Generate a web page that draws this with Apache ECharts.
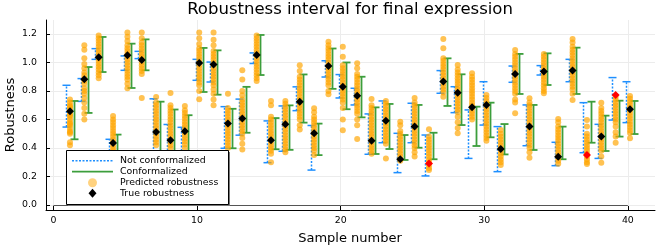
<!DOCTYPE html>
<html><head><meta charset="utf-8">
<script src="https://cdn.jsdelivr.net/npm/echarts@6/dist/echarts.min.js"></script>
<style>html,body{margin:0;padding:0;background:#fff}#c{width:664px;height:249px}</style>
</head><body><div id="c"></div>
<script>
const titleText = 'Robustness interval for final expression';
const xLabel = 'Sample number';
const yLabel = 'Robustness';
const seriesNames = ['Not conformalized', 'Conformalized', 'Predicted robustness', 'True robustness'];
const xTicks = [0, 10, 20, 30, 40];
const yTicks = [0, 0.2, 0.4, 0.6, 0.8, 1.0, 1.2];

const samples = [1,2,3,4,5,6,7,8,9,10,11,12,13,14,15,16,17,18,19,20,21,22,23,24,25,26,27,28,29,30,31,32,33,34,35,36,37,38,39,40];
const blueLo  = [0.547,0.727,1.022,0.33,0.945,1.027,0.32,0.26,0.33,0.875,0.863,0.398,0.49,0.993,0.297,0.377,0.662,0.245,0.898,0.751,0.702,0.356,0.437,0.227,0.437,0.204,0.784,0.648,0.327,0.561,0.234,0.861,0.416,0.912,0.276,0.865,0.367,0.327,0.596,0.578];
const blueHi  = [0.840,0.887,1.097,0.461,1.046,1.078,0.745,0.565,0.545,1.022,1.003,0.690,0.743,1.067,0.590,0.695,0.829,0.558,1.012,0.915,0.819,0.639,0.730,0.503,0.714,0.491,0.943,0.830,0.667,0.865,0.550,0.975,0.702,0.978,0.440,1.022,0.718,0.566,0.894,0.865];
const greenLo = [0.461,0.646,0.933,0.30,0.821,0.945,0.33,0.30,0.36,0.793,0.774,0.398,0.507,0.912,0.391,0.387,0.578,0.350,0.815,0.672,0.615,0.358,0.393,0.316,0.402,0.321,0.695,0.561,0.414,0.475,0.355,0.779,0.386,0.842,0.321,0.779,0.437,0.379,0.480,0.498];
const greenHi = [0.730,0.968,1.179,0.494,1.132,1.162,0.725,0.670,0.630,1.102,1.085,0.675,0.829,1.193,0.610,0.699,0.916,0.571,1.098,1.000,0.900,0.685,0.709,0.491,0.702,0.507,1.029,0.917,0.690,0.718,0.568,1.060,0.702,1.064,0.550,1.104,0.725,0.627,0.732,0.730];
const trueVals = [0.657,0.882,1.036,0.435,1.050,1.018,0.512,0.455,0.518,0.996,0.985,0.572,0.607,1.053,0.455,0.566,0.724,0.504,0.975,0.829,0.767,0.451,0.592,0.321,0.550,0.292,0.866,0.788,0.685,0.702,0.393,0.919,0.550,0.936,0.339,0.943,0.351,0.480,0.772,0.671];

const predicted = [
  [0.42,0.44,0.50,0.51,0.52,0.54,0.56,0.57,0.58,0.60,0.62,0.63,0.64,0.66,0.68,0.69,0.70,0.72,0.74],
  [0.60,0.64,0.68,0.72,0.75,0.78,0.80,0.82,0.85,0.87,0.89,0.91,0.93,0.96,0.99,1.03,1.09,1.12],
  [0.89,0.91,0.93,0.95,0.97,0.99,1.01,1.03,1.05,1.07,1.09,1.11,1.13,1.15,1.17,1.19],
  [0.625,0.60,0.58,0.56,0.54,0.52,0.50,0.48,0.46,0.44,0.42,0.40,0.38,0.36],
  [0.82,0.85,0.88,0.90,0.92,0.94,0.96,0.98,1.00,1.02,1.04,1.06,1.08,1.10,1.12,1.15,1.18,1.21],
  [0.75,0.92,0.94,0.96,0.98,1.00,1.02,1.04,1.06,1.08,1.10,1.12,1.14,1.17,1.21],
  [0.757,0.72,0.70,0.68,0.66,0.64,0.62,0.60,0.58,0.56,0.54,0.52,0.50,0.48,0.46,0.44,0.42],
  [0.785,0.70,0.68,0.66,0.64,0.62,0.60,0.58,0.56,0.54,0.52,0.50,0.48,0.46,0.44,0.42,0.40],
  [0.695,0.665,0.645,0.625,0.605,0.585,0.565,0.545,0.525,0.505,0.485,0.465,0.445,0.425,0.40],
  [0.742,0.80,0.84,0.86,0.88,0.90,0.92,0.94,0.96,0.98,1.00,1.02,1.04,1.06,1.08,1.10,1.13,1.17,1.21],
  [0.70,0.74,0.78,0.81,0.84,0.86,0.88,0.90,0.92,0.94,0.96,0.98,1.00,1.02,1.04,1.06,1.08,1.12,1.16,1.21],
  [0.78,0.68,0.66,0.64,0.62,0.60,0.58,0.56,0.54,0.52,0.50,0.48,0.46,0.44,0.42,0.40],
  [0.945,0.88,0.80,0.77,0.74,0.72,0.70,0.68,0.66,0.64,0.62,0.60,0.58,0.56,0.54,0.52,0.50,0.47,0.43,0.39],
  [0.87,0.89,0.91,0.93,0.95,0.97,0.99,1.01,1.03,1.05,1.07,1.09,1.11,1.13,1.15,1.17,1.19],
  [0.73,0.70,0.62,0.60,0.58,0.56,0.54,0.52,0.50,0.48,0.46,0.44,0.42,0.40,0.38,0.36,0.30],
  [0.73,0.71,0.69,0.67,0.65,0.63,0.61,0.59,0.57,0.55,0.53,0.51,0.49,0.47,0.45,0.43,0.41,0.39,0.37],
  [0.98,0.94,0.90,0.88,0.86,0.84,0.82,0.80,0.78,0.76,0.74,0.72,0.70,0.68,0.66,0.64,0.62,0.60,0.56,0.53],
  [0.678,0.65,0.62,0.60,0.58,0.56,0.54,0.52,0.50,0.48,0.46,0.44,0.42,0.40,0.38,0.35],
  [1.146,1.12,1.10,1.08,1.06,1.04,1.02,1.00,0.98,0.96,0.94,0.92,0.90,0.88,0.86,0.84,0.80,0.777],
  [1.11,1.04,0.98,0.96,0.94,0.92,0.90,0.88,0.86,0.84,0.82,0.80,0.78,0.76,0.74,0.72,0.68,0.60,0.524],
  [0.994,0.96,0.92,0.90,0.88,0.86,0.84,0.82,0.80,0.78,0.76,0.74,0.72,0.70,0.68,0.66,0.64,0.60,0.56,0.463],
  [0.744,0.70,0.68,0.66,0.64,0.62,0.60,0.58,0.56,0.54,0.52,0.50,0.48,0.46,0.44,0.42,0.40,0.38,0.36],
  [0.73,0.71,0.69,0.67,0.65,0.63,0.61,0.59,0.57,0.55,0.53,0.51,0.49,0.47,0.45,0.43,0.327],
  [0.585,0.56,0.52,0.50,0.48,0.46,0.44,0.42,0.40,0.38,0.36,0.34,0.32,0.31],
  [0.75,0.72,0.70,0.68,0.66,0.64,0.62,0.60,0.58,0.56,0.54,0.52,0.50,0.48,0.46,0.44,0.42,0.40,0.37,0.34],
  [0.531,0.48,0.46,0.44,0.42,0.40,0.38,0.36,0.34,0.32,0.30,0.28,0.26,0.245],
  [1.165,1.10,1.03,1.01,0.99,0.97,0.95,0.93,0.91,0.89,0.87,0.85,0.83,0.81,0.79,0.76],
  [0.982,0.95,0.93,0.91,0.89,0.87,0.85,0.83,0.81,0.79,0.77,0.75,0.73,0.71,0.69,0.67,0.65,0.62,0.58,0.54,0.503],
  [0.924,0.90,0.88,0.86,0.84,0.82,0.80,0.78,0.76,0.74,0.72,0.70,0.68,0.66,0.64,0.62,0.60],
  [0.772,0.75,0.73,0.71,0.69,0.67,0.65,0.63,0.61,0.59,0.57,0.55,0.53,0.51,0.49,0.47,0.451],
  [0.526,0.50,0.48,0.46,0.44,0.42,0.40,0.38,0.36,0.34,0.32,0.30,0.28],
  [1.088,1.06,1.04,1.02,1.00,0.98,0.96,0.94,0.92,0.90,0.88,0.86,0.84,0.82,0.80,0.78,0.74,0.72,0.643],
  [0.749,0.72,0.70,0.68,0.66,0.64,0.62,0.60,0.58,0.56,0.54,0.52,0.50,0.48,0.46,0.44,0.42,0.40,0.37,0.332],
  [1.06,1.04,1.02,1.00,0.98,0.96,0.94,0.92,0.90,0.88,0.86,0.84,0.82,0.80,0.784],
  [0.604,0.58,0.55,0.53,0.51,0.49,0.47,0.45,0.43,0.41,0.39,0.37,0.35,0.33,0.31,0.29],
  [1.165,1.14,1.11,1.09,1.07,1.05,1.03,1.01,0.99,0.97,0.95,0.93,0.91,0.89,0.87,0.85,0.83,0.81,0.78,0.737],
  [0.596,0.55,0.50,0.48,0.46,0.44,0.42,0.40,0.38,0.36,0.34,0.32,0.30,0.288],
  [0.718,0.68,0.66,0.64,0.62,0.60,0.58,0.56,0.54,0.52,0.50,0.48,0.46,0.44,0.42,0.40,0.38,0.34,0.297],
  [0.76,0.74,0.72,0.70,0.68,0.66,0.64,0.62,0.60,0.58,0.55,0.51,0.48,0.437],
  [0.765,0.745,0.725,0.705,0.685,0.665,0.645,0.625,0.605,0.585,0.565,0.545,0.525,0.505,0.468]
];

// style constants
const FONT = 'DejaVu Sans';
const BLUE = '#1E8FFF', GREEN = '#3C9E3C', ORANGE = 'rgba(255,165,0,0.68)', BLACK = '#000', RED = '#FF0000';
const OFF_BLUE = -0.1, OFF_MID = 0.15, OFF_GREEN = 0.4;
const CAP = 4;

function intervalRenderer(color, dash, width) {
  return function (params, api) {
    const x = api.value(0), lo = api.value(1), hi = api.value(2);
    const a = api.coord([x, lo]), b = api.coord([x, hi]);
    const cx = Math.round(a[0]) + 0.5;
    return {
      type: 'group',
      children: [
        { type: 'line', shape: { x1: cx, y1: a[1], x2: cx, y2: b[1] }, style: { stroke: color, lineWidth: width, lineDash: dash } },
        { type: 'line', shape: { x1: cx - CAP, y1: a[1], x2: cx + CAP, y2: a[1] }, style: { stroke: color, lineWidth: width } },
        { type: 'line', shape: { x1: cx - CAP, y1: b[1], x2: cx + CAP, y2: b[1] }, style: { stroke: color, lineWidth: width } }
      ]
    };
  };
}

const blueData = samples.map((s, i) => [s + OFF_BLUE, blueLo[i], blueHi[i]]);
const greenData = samples.map((s, i) => [s + OFF_GREEN, greenLo[i], greenHi[i]]);
const predData = [];
samples.forEach((s, i) => predicted[i].forEach(v => predData.push([s + OFF_MID, v])));
const trueData = samples.map((s, i) => ({
  value: [s + OFF_MID, trueVals[i]],
  itemStyle: { color: (trueVals[i] < greenLo[i] || trueVals[i] > greenHi[i]) ? RED : BLACK, opacity: 1 }
}));

const chart = echarts.init(document.getElementById('c'), null, { renderer: 'canvas' });

const axisCommon = {
  type: 'value',
  axisLine: { show: true, onZero: false, lineStyle: { color: '#000', width: 1 } },
  axisTick: { show: true, inside: true, length: 4, lineStyle: { color: '#000' } },
  splitLine: { show: true, lineStyle: { color: '#ececec', width: 1 } },
};

const L = { x: 66.5, y: 150.5, w: 162, h: 54 };
const rowY = [160.7, 171.7, 182.7, 193.3];

chart.setOption({
  animation: false,
  backgroundColor: '#fff',
  grid: { left: 46, right: 9, top: 20, bottom: 39, containLabel: false },
  xAxis: Object.assign({}, axisCommon, {
    min: -0.52, max: 41.89,
    axisTick: Object.assign({}, axisCommon.axisTick, { customValues: xTicks }),
    axisLabel: { customValues: xTicks, margin: 6, fontSize: 9.4, color: '#000', fontFamily: FONT }
  }),
  yAxis: Object.assign({}, axisCommon, {
    min: -0.035, max: 1.298,
    axisTick: Object.assign({}, axisCommon.axisTick, { customValues: yTicks }),
    axisLabel: { customValues: yTicks, margin: 9, fontSize: 9.4, color: '#000', fontFamily: FONT, formatter: v => v.toFixed(1) }
  }),
  series: [
    { name: seriesNames[0], type: 'custom', z: 2, renderItem: intervalRenderer(BLUE, [2, 1.5], 1.5), encode: { x: 0, y: [1, 2] }, data: blueData,
      markLine: { silent: true, symbol: 'none', label: { show: false }, lineStyle: { color: '#555', width: 1, type: 'solid' },
        data: [[{ coord: [xTicks[0], 0] }, { coord: [xTicks[xTicks.length - 1], 0] }]] } },
    { name: seriesNames[1], type: 'custom', z: 3, renderItem: intervalRenderer(GREEN, null, 1.8), encode: { x: 0, y: [1, 2] }, data: greenData },
    { name: seriesNames[2], type: 'scatter', z: 4, symbol: 'circle', symbolSize: 6, itemStyle: { color: ORANGE, opacity: 1 }, data: predData },
    { name: seriesNames[3], type: 'scatter', z: 5, symbol: 'diamond', symbolSize: 8, itemStyle: { opacity: 1 }, data: trueData }
  ],
  graphic: [
    { type: 'text', z: 100, x: 350, y: 9.5, style: { text: titleText, font: '16.5px "' + FONT + '"', fill: '#000', align: 'center', verticalAlign: 'middle' } },
    { type: 'text', z: 100, x: 350, y: 238.5, style: { text: xLabel, font: '13px "' + FONT + '"', fill: '#000', align: 'center', verticalAlign: 'middle' } },
    { type: 'text', z: 100, x: 10.5, y: 115, rotation: Math.PI / 2, style: { text: yLabel, font: '13px "' + FONT + '"', fill: '#000', align: 'center', verticalAlign: 'middle' } },
    { type: 'rect', z: 100, shape: { x: L.x + 1.5, y: L.y + 1.5, width: L.w, height: L.h }, style: { fill: '#777' } },
    { type: 'rect', z: 101, shape: { x: L.x, y: L.y, width: L.w, height: L.h }, style: { fill: '#fff', stroke: '#000', lineWidth: 1 } },
    { type: 'line', z: 102, shape: { x1: 72, y1: rowY[0], x2: 113, y2: rowY[0] }, style: { stroke: BLUE, lineWidth: 1.5, lineDash: [2, 1.5] } },
    { type: 'line', z: 102, shape: { x1: 72, y1: rowY[1], x2: 113, y2: rowY[1] }, style: { stroke: GREEN, lineWidth: 1.8 } },
    { type: 'circle', z: 102, shape: { cx: 92.5, cy: rowY[2], r: 4.5 }, style: { fill: 'rgba(255,165,0,0.5)' } },
    { type: 'polygon', z: 102, shape: { points: [[92.5, rowY[3] - 4.5], [96.5, rowY[3]], [92.5, rowY[3] + 4.5], [88.5, rowY[3]]] }, style: { fill: BLACK } },
    ...seriesNames.map((n, k) => ({ type: 'text', z: 102, x: 120, y: rowY[k], style: { text: n, font: '9.4px "' + FONT + '"', fill: '#000', align: 'left', verticalAlign: 'middle' } }))
  ]
});
</script>
</body></html>
